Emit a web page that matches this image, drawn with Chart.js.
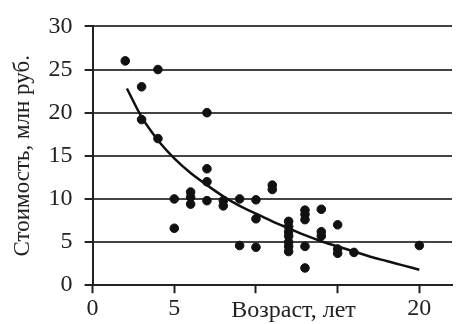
<!DOCTYPE html>
<html>
<head>
<meta charset="utf-8">
<script src="https://cdn.jsdelivr.net/npm/chart.js@4/dist/chart.umd.min.js"></script>
<style>
  html, body { margin: 0; padding: 0; background: #fff; }
  #wrap { width: 463px; height: 324px; }
</style>
</head>
<body>
<div id="wrap"><canvas id="canvas-1"></canvas></div>
<script>
// возраст (лет) и стоимость (млн руб.) - точки
var ages = [2, 3, 3, 4, 4, 5, 5, 6, 6, 6, 7, 7, 7, 7, 8, 8, 9, 9, 10, 10, 10, 11, 11,
    12, 12, 12, 12, 12, 12, 12, 13, 13, 13, 13, 13, 14, 14, 14, 15, 15, 15, 16, 20];
var prices = [26, 23, 19.2, 25, 17, 10, 6.6, 10.8, 10.2, 9.4, 20, 13.5, 12, 9.8, 9.8, 9.2, 10, 4.6, 9.9, 7.7, 4.4, 11.6, 11.1,
    7.4, 6.8, 6.2, 5.7, 5.0, 4.5, 3.9, 8.7, 8.2, 7.6, 4.5, 2.0, 8.8, 6.2, 5.7, 7.0, 4.2, 3.7, 3.8, 4.6];

// линия тренда
var trendAges = [2.1, 3, 4, 5, 6, 7, 8, 9, 10, 11, 12, 13, 14, 15, 16, 17, 18, 19, 20];
var trendPrices = [22.8, 19.5, 16.8, 14.7, 13.0, 11.6, 10.3, 9.2, 8.3, 7.4, 6.6, 5.8, 5.1, 4.5, 3.9, 3.3, 2.8, 2.3, 1.8];

var xTicks = [0, 5, 10, 15, 20];
var xTickLabels = ['0', '5', '', '', '20'];
var yTicks = [0, 5, 10, 15, 20, 25, 30];

var FONT = "'Liberation Serif', 'Times New Roman', serif";

var points = ages.map(function (a, i) { return { x: a, y: prices[i] }; });
var trend = trendAges.map(function (a, i) { return { x: a, y: trendPrices[i] }; });

// подпись оси X стоит в строке делений, между 5 и 20
var xTitlePlugin = {
    id: 'xTitle',
    afterDraw: function (chart) {
        var ctx = chart.ctx;
        var xs = chart.scales.x;
        ctx.save();
        ctx.font = '24px ' + FONT;
        ctx.fillStyle = '#222';
        ctx.textAlign = 'center';
        ctx.textBaseline = 'middle';
        ctx.fillText('Возраст, лет', xs.getPixelForValue(12.3), xs.bottom - 13);
        ctx.restore();
    }
};

var chart = new Chart(document.getElementById('canvas-1'), {
    type: 'scatter',
    data: {
        datasets: [{
            data: points,
            backgroundColor: '#111',
            borderColor: '#111',
            pointRadius: 4.3,
            order: 1
        }, {
            type: 'line',
            data: trend,
            borderColor: '#111',
            borderWidth: 2.5,
            pointRadius: 0,
            fill: false,
            cubicInterpolationMode: 'monotone',
            order: 0
        }]
    },
    options: {
        responsive: true,
        maintainAspectRatio: false,
        animation: false,
        layout: { padding: { top: 19, right: 11, left: 9, bottom: 0 } },
        plugins: {
            legend: { display: false },
            tooltip: { enabled: false }
        },
        scales: {
            x: {
                type: 'linear',
                min: 0,
                max: 22,
                afterBuildTicks: function (scale) {
                    scale.ticks = xTicks.map(function (v) { return { value: v }; });
                },
                ticks: {
                    font: { family: FONT, size: 24 },
                    color: '#222',
                    padding: 1,
                    maxRotation: 0,
                    callback: function (v) { return xTickLabels[xTicks.indexOf(v)]; }
                },
                grid: {
                    drawOnChartArea: false,
                    tickLength: 8,
                    tickColor: '#222',
                    tickWidth: 2
                },
                border: { color: '#222', width: 2 }
            },
            y: {
                min: 0,
                max: 30,
                afterBuildTicks: function (scale) {
                    scale.ticks = yTicks.map(function (v) { return { value: v }; });
                },
                ticks: {
                    font: { family: FONT, size: 24 },
                    color: '#222',
                    padding: 12
                },
                grid: {
                    color: '#444',
                    lineWidth: 2,
                    tickLength: 8,
                    tickColor: '#222'
                },
                border: { color: '#222', width: 2 },
                title: {
                    display: true,
                    text: 'Стоимость, млн руб.',
                    font: { family: FONT, size: 23 },
                    color: '#222',
                    padding: { top: 0, bottom: 0 }
                }
            }
        }
    },
    plugins: [xTitlePlugin]
});
</script>
</body>
</html>
